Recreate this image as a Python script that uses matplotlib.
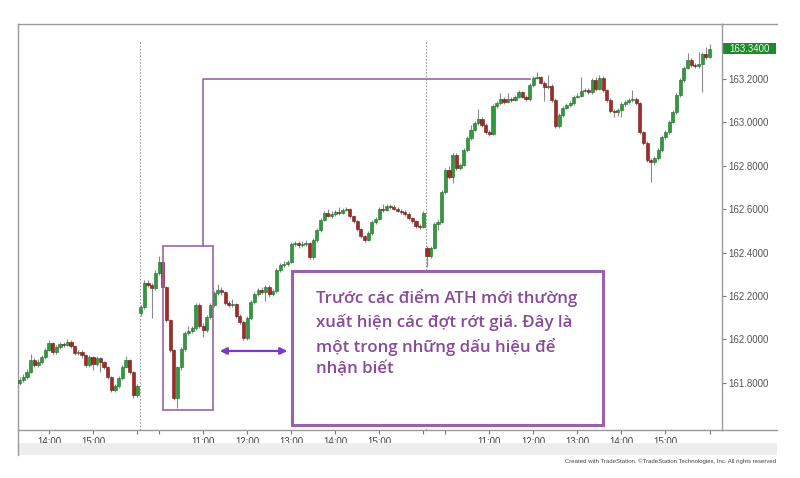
import numpy as np
import matplotlib.pyplot as plt
from matplotlib.patches import Rectangle, FancyArrowPatch
from matplotlib.lines import Line2D

plt.rcParams['font.family'] = ['Open Sans', 'DejaVu Sans']

# 5 minute bars, three sessions (first one only from 13:20)
# day 1
d1_start = "13:20"
d1_open = 161.799
d1_close = [161.813, 161.827, 161.850, 161.905, 161.882, 161.896, 161.919, 161.951, 161.983, 161.942,
            161.965, 161.979, 161.974, 161.988, 161.970, 161.937, 161.942, 161.928, 161.882, 161.919,
            161.887, 161.914, 161.896, 161.873, 161.827, 161.767, 161.785, 161.822, 161.873, 161.905,
            161.850, 161.744, 161.785]
d1_high = [161.825, 161.840, 161.862, 161.935, 161.915, 161.908, 161.930, 161.962, 161.998, 161.990,
           161.975, 161.990, 161.988, 162.000, 161.996, 161.975, 161.952, 161.950, 161.935, 161.928,
           161.925, 161.922, 161.920, 161.902, 161.880, 161.832, 161.795, 161.830, 161.882, 161.925,
           161.912, 161.856, 161.795]
d1_low = [161.790, 161.805, 161.818, 161.845, 161.872, 161.875, 161.888, 161.912, 161.945, 161.935,
          161.935, 161.958, 161.965, 161.968, 161.962, 161.930, 161.928, 161.915, 161.872, 161.875,
          161.860, 161.880, 161.850, 161.865, 161.818, 161.758, 161.758, 161.778, 161.815, 161.868,
          161.842, 161.730, 161.735]

# day 2
d2_start = "09:35"
d2_open = 162.121
d2_close = [162.149, 162.260, 162.251, 162.237, 162.306, 162.357, 162.242, 162.089, 161.951, 161.730,
            161.873, 161.956, 162.030, 162.039, 162.053, 162.159, 162.062, 162.043, 162.103, 162.159,
            162.214, 162.228, 162.218, 162.168, 162.159, 162.163, 162.108, 162.080, 162.007, 162.099,
            162.172, 162.209, 162.228, 162.218, 162.242, 162.209, 162.223, 162.320, 162.343, 162.348,
            162.357, 162.440, 162.444, 162.435, 162.440, 162.444, 162.380, 162.458, 162.504, 162.550,
            162.583, 162.569, 162.578, 162.587, 162.583, 162.596, 162.601, 162.569, 162.546, 162.509,
            162.477, 162.458, 162.490, 162.541, 162.555, 162.601, 162.596, 162.615, 162.610, 162.601,
            162.592, 162.587, 162.578, 162.559, 162.546, 162.523, 162.518, 162.583]
d2_high = [162.160, 162.272, 162.275, 162.262, 162.318, 162.385, 162.362, 162.248, 162.095, 161.958,
           161.880, 161.965, 162.040, 162.060, 162.062, 162.170, 162.168, 162.075, 162.112, 162.168,
           162.225, 162.255, 162.240, 162.225, 162.178, 162.185, 162.170, 162.115, 162.088, 162.108,
           162.180, 162.218, 162.238, 162.240, 162.250, 162.250, 162.232, 162.330, 162.352, 162.360,
           162.366, 162.448, 162.455, 162.452, 162.452, 162.456, 162.450, 162.466, 162.512, 162.560,
           162.592, 162.600, 162.590, 162.596, 162.610, 162.606, 162.612, 162.607, 162.575, 162.552,
           162.515, 162.482, 162.498, 162.550, 162.565, 162.612, 162.625, 162.625, 162.624, 162.618,
           162.608, 162.600, 162.594, 162.585, 162.565, 162.552, 162.530, 162.592]
d2_low = [162.110, 162.140, 162.240, 162.100, 162.230, 162.298, 162.235, 162.080, 161.940, 161.720,
          161.683, 161.860, 161.945, 162.020, 162.028, 162.045, 162.055, 162.010, 162.035, 162.095,
          162.150, 162.205, 162.205, 162.160, 162.148, 162.150, 162.100, 162.070, 161.998, 161.998,
          162.090, 162.165, 162.200, 162.210, 162.175, 162.195, 162.200, 162.215, 162.312, 162.335,
          162.340, 162.350, 162.432, 162.420, 162.428, 162.432, 162.372, 162.372, 162.450, 162.497,
          162.545, 162.562, 162.560, 162.570, 162.575, 162.578, 162.590, 162.560, 162.538, 162.500,
          162.468, 162.448, 162.452, 162.482, 162.532, 162.548, 162.588, 162.590, 162.600, 162.594,
          162.585, 162.580, 162.570, 162.552, 162.538, 162.515, 162.510, 162.512]

# day 3
d3_start = "09:35"
d3_open = 162.421
d3_close = [162.384, 162.421, 162.532, 162.541, 162.679, 162.781, 162.748, 162.850, 162.790, 162.804,
            162.873, 162.928, 162.965, 162.997, 163.016, 162.988, 162.956, 162.947, 163.076, 163.089,
            163.108, 163.094, 163.108, 163.103, 163.117, 163.140, 163.117, 163.108, 163.172, 163.205,
            163.209, 163.182, 163.163, 163.168, 163.103, 162.983, 163.034, 163.066, 163.080, 163.089,
            163.117, 163.122, 163.145, 163.149, 163.140, 163.195, 163.154, 163.205, 163.149, 163.103,
            163.053, 163.048, 163.057, 163.085, 163.094, 163.103, 163.108, 163.089, 162.956, 162.905,
            162.827, 162.818, 162.836, 162.873, 162.933, 162.956, 163.002, 163.048, 163.126, 163.195,
            163.251, 163.288, 163.265, 163.260, 163.269, 163.315, 163.301, 163.340]
d3_high = [162.430, 162.430, 162.540, 162.555, 162.688, 162.792, 162.800, 162.860, 162.858, 162.815,
           162.882, 162.938, 162.990, 163.006, 163.060, 163.025, 162.995, 162.965, 163.085, 163.098,
           163.135, 163.118, 163.135, 163.118, 163.126, 163.150, 163.146, 163.125, 163.180, 163.215,
           163.232, 163.215, 163.190, 163.218, 163.175, 163.110, 163.042, 163.074, 163.090, 163.100,
           163.125, 163.135, 163.210, 163.160, 163.158, 163.205, 163.210, 163.220, 163.212, 163.155,
           163.110, 163.062, 163.068, 163.095, 163.102, 163.112, 163.150, 163.115, 163.095, 162.962,
           162.912, 162.835, 162.845, 162.880, 162.940, 162.965, 163.010, 163.055, 163.135, 163.205,
           163.260, 163.318, 163.295, 163.272, 163.325, 163.325, 163.345, 163.360]
d3_low = [162.335, 162.375, 162.415, 162.505, 162.535, 162.672, 162.740, 162.720, 162.782, 162.782,
          162.797, 162.865, 162.920, 162.958, 162.990, 162.980, 162.948, 162.938, 162.940, 163.068,
          163.082, 163.085, 163.088, 163.095, 163.098, 163.110, 163.110, 163.100, 163.100, 163.165,
          163.198, 163.175, 163.100, 163.155, 163.095, 162.975, 162.975, 163.025, 163.060, 163.072,
          163.082, 163.110, 163.115, 163.138, 163.132, 163.132, 163.145, 163.148, 163.140, 163.095,
          163.045, 163.025, 163.028, 163.025, 163.075, 163.085, 163.095, 163.080, 162.948, 162.895,
          162.818, 162.725, 162.805, 162.828, 162.865, 162.925, 162.948, 162.995, 163.040, 163.118,
          163.188, 163.245, 163.255, 163.250, 163.252, 163.140, 163.292, 163.295]

price_ticks = [161.8, 162.0, 162.2, 162.4, 162.6, 162.8, 163.0, 163.2]
ath_level = 163.2

note = ("Trước các điểm ATH mới thường\n"
        "xuất hiện các đợt rớt giá. Đây là\n"
        "một trong những dấu hiệu để\n"
        "nhận biết")

sessions = [(d1_start, d1_open, d1_close, d1_high, d1_low),
            (d2_start, d2_open, d2_close, d2_high, d2_low),
            (d3_start, d3_open, d3_close, d3_high, d3_low)]

opens, closes, highs, lows, minutes, day_first = [], [], [], [], [], []
for start, o, c, h, l in sessions:
    day_first.append(len(closes))
    hh, mm = start.split(":")
    t0 = int(hh) * 60 + int(mm)
    opens += [o] + c[:-1]
    closes += c
    highs += h
    lows += l
    minutes += [t0 + 5 * k for k in range(len(c))]

opens = np.array(opens)
closes = np.array(closes)
highs = np.array(highs)
lows = np.array(lows)
x = np.arange(len(closes))
up = closes >= opens

fig = plt.figure(figsize=(8, 4.78), dpi=100)
ax = fig.add_axes([18/800, 1-430/478, 704/800, 406/478])

ax.vlines(x, lows, highs, color='#8a8a8a', lw=0.8, zorder=2)
ax.bar(x[up], closes[up]-opens[up], bottom=opens[up], width=0.85,
       color='#2f9b3d', edgecolor='#1f6b29', lw=0.4, zorder=3)
ax.bar(x[~up], closes[~up]-opens[~up], bottom=opens[~up], width=0.85,
       color='#a42a28', edgecolor='#6a1a18', lw=0.4, zorder=3)

ax.set_xlim(-0.44, 191.4)
ax.set_ylim(161.583, 163.453)

# session dividers
for f in day_first[1:]:
    ax.axvline(f - 0.3, ymax=0.96, color='#9a9a9a', lw=0.8, ls=(0, (1.5, 1.5)), zorder=1)

# time axis
tick_pos, tick_lab = [], []
for i, m in enumerate(minutes):
    if m % 60 == 0:
        tick_pos.append(i)
        tick_lab.append("" if m // 60 in (10, 16) else "%02d:00" % (m // 60))
ax.set_xticks(tick_pos)
ax.set_xticklabels(tick_lab, family='Liberation Sans')
ax.tick_params(axis='x', length=3, color='#777', labelsize=7, labelcolor='#444', pad=2)

ax.yaxis.tick_right()
ax.set_yticks(price_ticks)
ax.set_yticklabels(["%.4f" % p for p in price_ticks], family='Liberation Sans')
ax.tick_params(axis='y', length=3, color='#777', labelsize=7, labelcolor='#555', pad=1.5)

for s in ax.spines.values():
    s.set_color('#9a9a9a')
    s.set_linewidth(1)

# last price tag
tr = ax.get_yaxis_transform()
last = closes[-1]
ax.add_patch(Rectangle((1.0015, last - 0.027), 0.0745, 0.054, transform=tr,
                       fc='#1e8a2b', ec='none', clip_on=False))
ax.text(1.0385, last, "%.4f" % last, transform=tr, ha='center', va='center',
        color='#eaf6ea', fontsize=7, family='Liberation Sans')

# annotations
purple = '#8a4a9a'
ax.add_patch(Rectangle((39.0, 161.675), 13.7, 0.755, fill=False, ec='#9a62aa', lw=1.2, zorder=4))
ax.plot([50.0, 50.0, 139.1], [162.430, ath_level, ath_level], color='#9a62aa', lw=1.2, zorder=4)
ax.add_patch(Rectangle((74.2, 161.606), 84.8, 0.709, fc='white', ec='#9a62aa', lw=2.2, zorder=5))
ax.add_patch(FancyArrowPatch((53.8, 161.947), (73.7, 161.947), arrowstyle='<|-|>',
                             mutation_scale=10, color='#7a3bc4', lw=1.6, zorder=5))
ax.text(80.8, 162.232, note, ha='left', va='top', color=purple, fontsize=12.2,
        fontweight='semibold', linespacing=1.5, zorder=6)

# frame bits outside the plot
grey = '#9a9a9a'
fig.add_artist(Line2D([722/800, 777/800], [1-24/478]*2, color=grey, lw=1))
fig.add_artist(Line2D([722/800, 777/800], [1-430/478]*2, color=grey, lw=1))
fig.add_artist(Line2D([18/800]*2, [1-430/478, 1-455/478], color=grey, lw=1))
fig.add_artist(Rectangle((18.5/800, 1-455/478), 758/800, 12/478, transform=fig.transFigure,
                         fc='#ededed', ec='none'))
fig.text(776/800, 1-461/478, "Created with TradeStation. \u00a9TradeStation Technologies, Inc. All rights reserved",
         ha='right', va='center', fontsize=4.3, color='#444', family='Liberation Sans')

fig.savefig('out.png', dpi=100)
